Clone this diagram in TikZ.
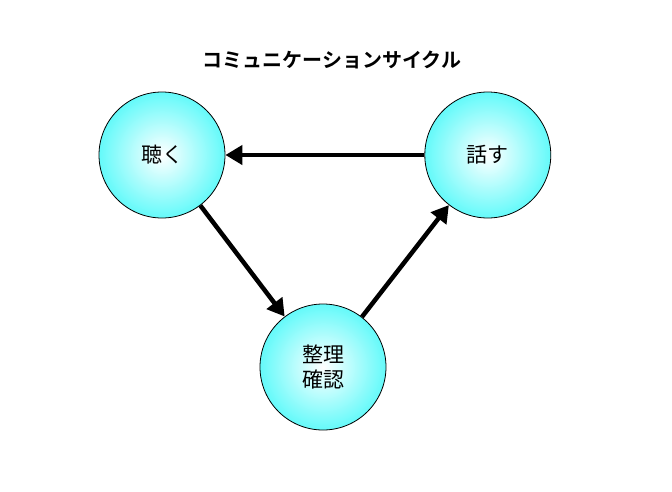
\documentclass[tikz,border=0pt]{standalone}
\usepackage{fontspec}
\newfontfamily\jpfont{Noto Sans CJK JP}
\newfontfamily\jpbold{Noto Sans CJK JP Bold}
\usetikzlibrary{arrows.meta, positioning}
\definecolor{bubblecyan}{RGB}{100,250,250}

\begin{document}
\begin{tikzpicture}[x=1pt, y=1pt,
    bubble/.style={circle, draw=black, line width=0.8pt, minimum size=126pt, inner sep=0pt,
        inner color=white, outer color=bubblecyan, font=\jpfont\fontsize{21}{25}\selectfont, align=center},
    flow/.style={line width=4.5pt, -{Triangle[length=17pt, width=19pt]}}]
                    \useasboundingbox (0,0) rectangle (672,-491);
                    \coordinate (top) at (332,-60);
                    \node[font=\jpbold\fontsize{20}{24}\selectfont] (title) at (top) {コミュニケーションサイクル};
                    \node[bubble] (kiku) at (162,-155) {聴く};
                    \node[bubble, right=199pt of kiku] (hanasu) {話す};
                    \node[bubble, below right=212pt and 161pt of kiku.center, anchor=center] (seiri) {整理\\確認};
                    \draw[flow] (hanasu) -- (kiku);
                    \draw[flow] (kiku) -- (seiri);
                    \draw[flow] (seiri) -- (hanasu);
                \end{tikzpicture}
\end{document}
